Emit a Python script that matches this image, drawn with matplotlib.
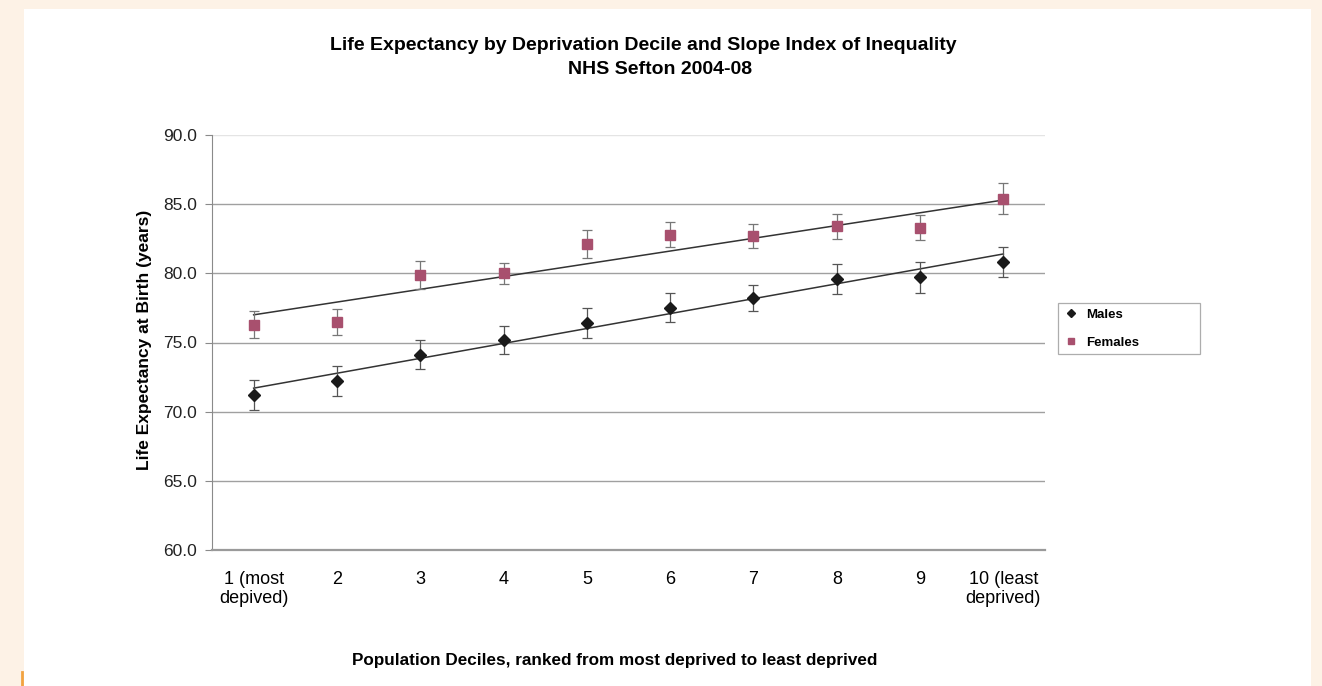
"""
Life expectancy by deprivation decile, NHS Sefton 2004-08.
Recreated as a plain Excel-style scatter with error bars and SII lines.
"""

import numpy as np
import matplotlib.pyplot as plt
from matplotlib.patches import Rectangle
from matplotlib.lines import Line2D

plt.rcParams['font.family'] = ['Liberation Sans', 'DejaVu Sans']

# --- Data ---
deciles = np.arange(1, 11)
tick_labels = ['1 (most\ndepived)', '2', '3', '4', '5', '6', '7', '8', '9',
               '10 (least\ndeprived)']

males = [71.2, 72.2, 74.1, 75.2, 76.4, 77.5, 78.2, 79.6, 79.7, 80.8]
males_err = [1.1, 1.1, 1.05, 1.0, 1.1, 1.05, 0.95, 1.1, 1.1, 1.1]

females = [76.3, 76.5, 79.9, 80.0, 82.1, 82.8, 82.7, 83.4, 83.3, 85.4]
females_err = [1.0, 0.95, 1.0, 0.75, 1.0, 0.9, 0.9, 0.9, 0.9, 1.1]

# slope index of inequality lines: value at decile 1 and decile 10
sii_x = [1, 10]
sii_males = [71.7, 81.4]
sii_females = [77.0, 85.3]

# --- Colours ---
BG_CREAM = '#FDF2E6'
COL_MALE = '#1a1a1a'
COL_FEMALE = '#A8506E'
COL_GRID = '#a0a0a0'

W, H = 1322, 686
fig = plt.figure(figsize=(W / 100, H / 100), dpi=100)
fig.patch.set_facecolor(BG_CREAM)

# white panel inside the cream border
fig.add_artist(Rectangle((24 / W, 0), (1311 - 24) / W, 1 - 9 / H,
                         transform=fig.transFigure, facecolor='white',
                         edgecolor='none', zorder=0))
# little orange mark at the lower left
fig.add_artist(Line2D([22 / W, 22 / W], [0, 14 / H], transform=fig.transFigure,
                      color='#F2A341', lw=2))

ax = fig.add_axes([212 / W, 1 - 550 / H, (1045 - 212) / W, (550 - 135) / H])
ax.set_facecolor('none')

# horizontal gridlines
for yv in [65, 70, 75, 80, 85, 90]:
    ax.axhline(yv, color=COL_GRID if yv < 90 else '#e4e4e4', lw=1.0, zorder=1)

# error bars + markers
ax.errorbar(deciles, males, yerr=males_err, fmt='D', color=COL_MALE,
            markersize=6.3, ecolor='#555555', elinewidth=0.9, capsize=3.5,
            capthick=0.9, zorder=4, label='Males')
ax.errorbar(deciles, females, yerr=females_err, fmt='s', color=COL_FEMALE,
            markersize=6.5, ecolor='#777777', elinewidth=0.9, capsize=3.5,
            capthick=0.9, zorder=4, label='Females')

# SII lines
ax.plot(sii_x, sii_males, color='#333333', lw=1.1, zorder=3)
ax.plot(sii_x, sii_females, color='#333333', lw=1.1, zorder=3)

ax.set_xlim(0.5, 10.5)
ax.set_ylim(60, 90)
yticks = [60, 65, 70, 75, 80, 85, 90]
ax.set_yticks(yticks)
ax.set_yticklabels([f'{v:.1f}' for v in yticks])
ax.set_xticks(deciles)
ax.set_xticklabels(tick_labels, linespacing=1.2)

for side in ['top', 'right']:
    ax.spines[side].set_visible(False)
ax.spines['left'].set_color('#8a8a8a')
ax.spines['bottom'].set_color('#9a9a9a')
ax.spines['bottom'].set_linewidth(1.6)

ax.tick_params(axis='y', length=5, color='#8a8a8a', labelsize=12.5, pad=6,
               labelcolor='#222222')
ax.tick_params(axis='x', length=0, labelsize=13, pad=15)

fig.text(145 / W, 1 - 340 / H, 'Life Expectancy at Birth (years)',
         rotation=90, ha='center', va='center', fontsize=12.5,
         fontweight='bold')

fig.text(615 / W, 1 - 661 / H,
         'Population Deciles, ranked from most deprived to least deprived',
         ha='center', va='center', fontsize=12.3, fontweight='bold')

fig.text(643 / W, 1 - 46 / H,
         'Life Expectancy by Deprivation Decile and Slope Index of Inequality',
         ha='center', va='center', fontsize=14, fontweight='bold')
fig.text(660 / W, 1 - 70 / H, 'NHS Sefton 2004-08',
         ha='center', va='center', fontsize=14, fontweight='bold')

# legend
handles = [Line2D([], [], marker='D', color=COL_MALE, ls='none', markersize=4.5),
           Line2D([], [], marker='s', color=COL_FEMALE, ls='none', markersize=4.5)]
leg = fig.legend(handles, ['Males', 'Females'],
                 bbox_to_anchor=(1058 / W, 1 - 358 / H, 142 / W, 55 / H),
                 loc='upper left', mode='expand',
                 prop={'weight': 'bold', 'size': 9.5},
                 frameon=True, fancybox=False, edgecolor='#999999',
                 labelspacing=1.2, handlelength=1.2, handletextpad=0.5,
                 borderpad=0.4, borderaxespad=0)
leg.get_frame().set_linewidth(0.9)

plt.savefig('out.png', dpi=100, facecolor=fig.get_facecolor())
